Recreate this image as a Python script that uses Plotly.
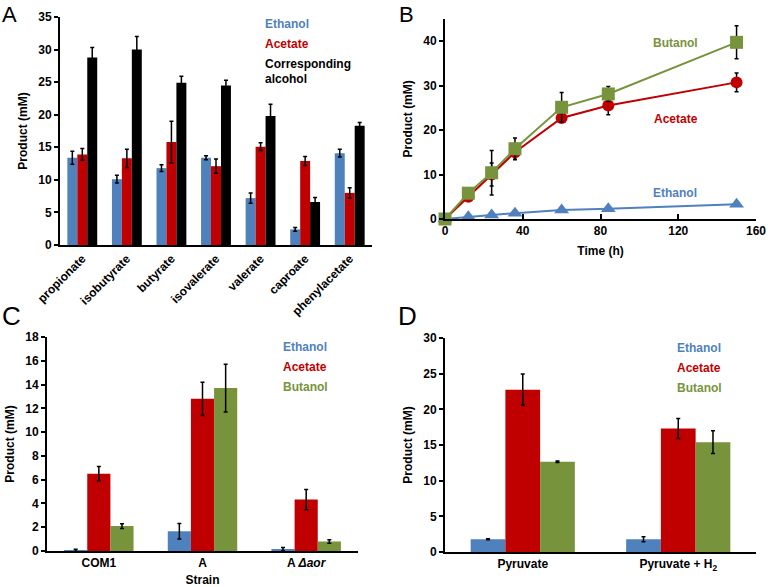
import plotly.graph_objects as go

BLUE = "#4F81BD"
RED = "#C00000"
GREEN = "#77933C"
BLACK = "#000000"

# Panel A
a_cats = ["propionate", "isobutyrate", "butyrate", "isovalerate", "valerate", "caproate", "phenylacetate"]
a_eth = [13.4, 10.1, 11.8, 13.4, 7.2, 2.4, 14.1]
a_eth_err = [1.0, 0.6, 0.5, 0.3, 0.8, 0.3, 0.6]
a_ace = [13.9, 13.3, 15.8, 12.1, 15.1, 12.9, 8.0]
a_ace_err = [0.9, 1.4, 3.2, 1.1, 0.6, 0.7, 0.8]
a_alc = [28.8, 30.0, 24.9, 24.5, 19.8, 6.6, 18.3]
a_alc_err = [1.5, 2.0, 1.0, 0.8, 1.8, 0.7, 0.5]

# Panel B
b_time = [0, 12, 24, 36, 60, 84, 150]
b_but = [0, 5.8, 10.4, 15.8, 25.1, 28.1, 39.7]
b_but_err = [0, 0.5, 5.0, 2.4, 3.3, 1.7, 3.7]
b_ace = [0, 5.0, 10.0, 15.0, 22.7, 25.5, 30.7]
b_ace_err = [0, 1.0, 2.6, 1.7, 0.0, 2.1, 2.1]
b_eth = [0, 0.5, 0.9, 1.3, 2.0, 2.3, 3.3]

# Panel C
c_cats = ["COM1", "A", "A <i>Δaor</i>"]
c_eth = [0.05, 1.66, 0.14]
c_eth_err = [0.1, 0.65, 0.15]
c_ace = [6.5, 12.8, 4.33]
c_ace_err = [0.6, 1.4, 0.85]
c_but = [2.1, 13.7, 0.8]
c_but_err = [0.2, 2.0, 0.15]

# Panel D
d_cats = ["Pyruvate", "Pyruvate + H<sub>2</sub>"]
d_eth = [1.78, 1.78]
d_eth_err = [0.07, 0.35]
d_ace = [22.76, 17.3]
d_ace_err = [2.2, 1.4]
d_but = [12.66, 15.4]
d_but_err = [0.1, 1.6]

W, H = 768, 587
def px(x):
    return x / W
def py(y):
    return (H - y) / H

fig = go.Figure()

def err(arr):
    return dict(type="data", array=arr, color="black", thickness=1.5, width=2)

for vals, e, col in [(a_eth, a_eth_err, BLUE), (a_ace, a_ace_err, RED), (a_alc, a_alc_err, BLACK)]:
    fig.add_trace(go.Bar(x=a_cats, y=vals, error_y=err(e), marker=dict(color=col, line=dict(width=0)),
                         xaxis="x", yaxis="y", showlegend=False))

fig.add_trace(go.Scatter(x=b_time, y=b_eth, mode="lines+markers", line=dict(color=BLUE, width=2),
                         marker=dict(symbol="triangle-up", size=13, color=BLUE),
                         xaxis="x2", yaxis="y2", showlegend=False, cliponaxis=False))
fig.add_trace(go.Scatter(x=b_time, y=b_ace, mode="lines+markers", line=dict(color=RED, width=2),
                         marker=dict(symbol="circle", size=12, color=RED), error_y=err(b_ace_err),
                         xaxis="x2", yaxis="y2", showlegend=False, cliponaxis=False))
fig.add_trace(go.Scatter(x=b_time, y=b_but, mode="lines+markers", line=dict(color=GREEN, width=2),
                         marker=dict(symbol="square", size=13, color=GREEN), error_y=err(b_but_err),
                         xaxis="x2", yaxis="y2", showlegend=False, cliponaxis=False))

for vals, e, col in [(c_eth, c_eth_err, BLUE), (c_ace, c_ace_err, RED), (c_but, c_but_err, GREEN)]:
    fig.add_trace(go.Bar(x=c_cats, y=vals, error_y=err(e), marker=dict(color=col, line=dict(width=0)),
                         xaxis="x3", yaxis="y3", showlegend=False))

for vals, e, col in [(d_eth, d_eth_err, BLUE), (d_ace, d_ace_err, RED), (d_but, d_but_err, GREEN)]:
    fig.add_trace(go.Bar(x=d_cats, y=vals, error_y=err(e), marker=dict(color=col, line=dict(width=0)),
                         xaxis="x4", yaxis="y4", showlegend=False))

FONT = dict(family="Liberation Sans, Arial, sans-serif", size=12, color="black", weight="bold")

def xax(dom, anchor, **kw):
    d = dict(domain=dom, anchor=anchor, showline=True, linecolor="black", linewidth=2,
             showgrid=False, zeroline=False, tickfont=FONT, ticks="", automargin=False,
             ticklabeloverflow="allow")
    d.update(kw)
    return d

def yax(dom, anchor, rng, dtick, **kw):
    d = dict(domain=dom, anchor=anchor, range=rng, dtick=dtick, showline=True, linecolor="black",
             linewidth=2, showgrid=False, zeroline=False, tickfont=FONT, ticks="outside",
             ticklen=4, tickwidth=1.5, tickcolor="black", automargin=False,
             title=dict(text="Product (mM)", font=FONT, standoff=8))
    d.update(kw)
    return d

fig.update_layout(
    width=W, height=H, margin=dict(l=0, r=0, t=0, b=0),
    paper_bgcolor="white", plot_bgcolor="white",
    barmode="group", bargap=0.33, bargroupgap=0,
    font=FONT,
    xaxis=xax([px(60), px(372)], "y", tickangle=-45),
    yaxis=yax([py(245), py(17)], "x", [0, 35], 5),
    xaxis2=xax([px(445), px(756)], "y2", range=[0, 160], dtick=40, ticks="inside", ticklen=5,
               tickwidth=1.5, tickcolor="black",
               title=dict(text="Time (h)", font=FONT, standoff=9)),
    yaxis2=yax([py(219), py(18.75)], "x2", [0, 45], 10, tickvals=[0, 10, 20, 30, 40]),
    xaxis3=xax([px(47), px(358)], "y3", title=dict(text="Strain", font=FONT, standoff=6)),
    yaxis3=yax([py(551), py(337)], "x3", [0, 18], 2),
    xaxis4=xax([px(445), px(756)], "y4"),
    yaxis4=yax([py(552), py(338)], "x4", [0, 30], 5),
)

def note(text, x, y, color, size=12, weight="bold", xanchor="left"):
    fig.add_annotation(text=text, x=px(x), y=py(y), xref="paper", yref="paper", showarrow=False,
                       xanchor=xanchor, yanchor="middle",
                       font=dict(family="Liberation Sans, Arial, sans-serif", size=size, color=color,
                                 weight=weight))

# legends as text
note("Ethanol", 263, 24, BLUE)
note("Acetate", 263, 44, RED)
note("Corresponding", 263, 64, BLACK)
note("alcohol", 263, 79, BLACK)

note("Butanol", 651, 43, GREEN)
note("Acetate", 652, 119, RED)
note("Ethanol", 651, 193, BLUE)

note("Ethanol", 281, 347, BLUE)
note("Acetate", 281, 367, RED)
note("Butanol", 281, 387, GREEN)

note("Ethanol", 675, 348, BLUE)
note("Acetate", 675, 368, RED)
note("Butanol", 675, 388, GREEN)

# panel letters
note("A", 0, 14, BLACK, size=22, weight="normal")
note("B", 397, 14, BLACK, size=22, weight="normal")
note("C", 0, 316, BLACK, size=26, weight="normal")
note("D", 396, 316, BLACK, size=26, weight="normal")

fig.write_html("out.html", config={"displayModeBar": False},
               post_script="document.body.style.margin='0';document.body.style.overflow='hidden';")
